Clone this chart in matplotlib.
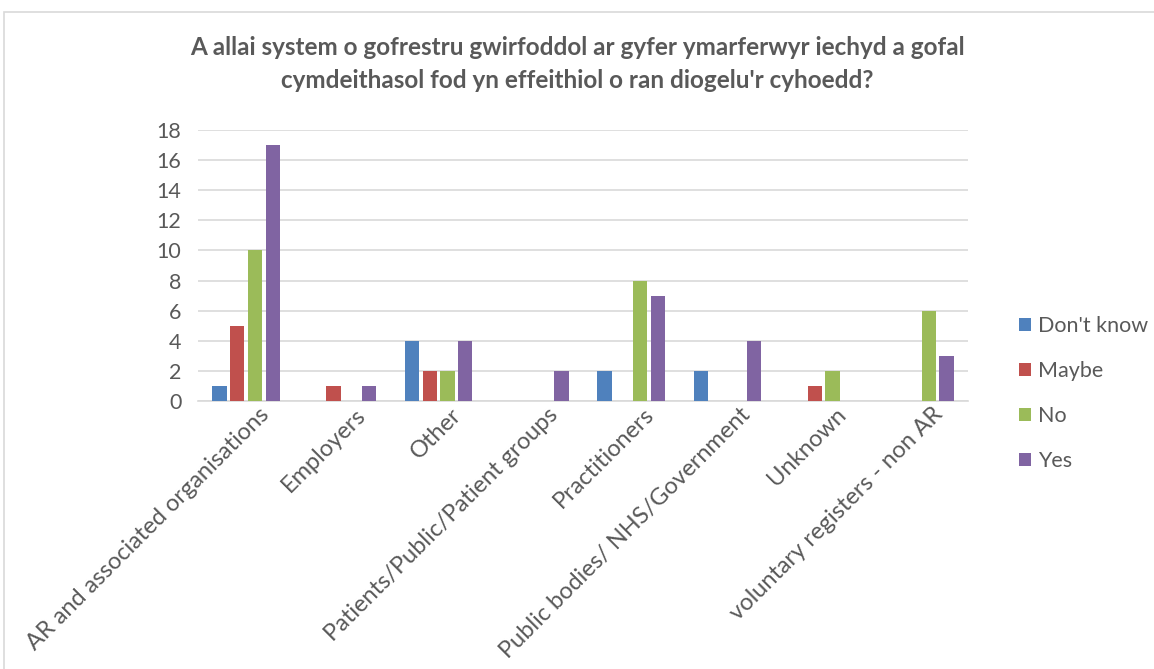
import matplotlib.pyplot as plt
import matplotlib.transforms as mtransforms
import numpy as np
from matplotlib.patches import Rectangle

plt.rcParams['font.family'] = ['Lato', 'DejaVu Sans']

categories = ["AR and associated organisations", "Employers", "Other",
              "Patients/Public/Patient groups", "Practitioners",
              "Public bodies/ NHS/Government", "Unknown",
              "voluntary registers - non AR"]
series = ["Don't know", "Maybe", "No", "Yes"]
dont_know = [1, 0, 4, 0, 2, 2, 0, 0]
maybe = [5, 1, 2, 0, 0, 0, 1, 0]
no = [10, 0, 2, 0, 8, 0, 2, 6]
yes = [17, 1, 4, 2, 7, 4, 0, 3]
colors = ["#4F81BD", "#C0504D", "#9BBB59", "#8064A2"]

fig = plt.figure(figsize=(11.54, 6.69), dpi=100)
ax = fig.add_axes([198 / 1154, 1 - 401 / 669, 770 / 1154, 271 / 669])

x = np.arange(len(categories))
w = 0.148
step = 0.184
for i, (vals, name, c) in enumerate(zip([dont_know, maybe, no, yes], series, colors)):
    ax.bar(x + (i - 1.5) * step, vals, width=w, color=c, label=name, zorder=3)

ax.set_xlim(-0.5, len(categories) - 0.5)
ax.set_ylim(0, 18)
ax.set_yticks(range(0, 19, 2))
ax.grid(axis='y', color='#D9D9D9', linewidth=1.2, zorder=0)
for s in ['top', 'right', 'left']:
    ax.spines[s].set_visible(False)
ax.spines['bottom'].set_color('#D9D9D9')
ax.spines['bottom'].set_linewidth(1.2)
ax.tick_params(length=0, colors='#595959', labelsize=15.5)
ax.tick_params(axis='y', pad=12)
ax.set_xticks(x)
ax.set_xticklabels(categories, rotation=45, ha='right', va='top',
                   rotation_mode='anchor', fontsize=17)
shift = mtransforms.ScaledTranslation(0.12, 0.02, fig.dpi_scale_trans)
for lbl in ax.get_xticklabels():
    lbl.set_transform(lbl.get_transform() + shift)

fig.suptitle("A allai system o gofrestru gwirfoddol ar gyfer ymarferwyr iechyd a gofal\n"
             "cymdeithasol fod yn effeithiol o ran diogelu'r cyhoedd?",
             x=0.5, y=1 - 36 / 669, fontsize=17.5, fontweight='bold', color='#595959',
             linespacing=1.55, va='top')

ax.legend(loc='upper left', bbox_to_anchor=(1000 / 1154, 1 - 297 / 669),
          bbox_transform=fig.transFigure, frameon=False, fontsize=15.5,
          handlelength=0.55, handleheight=0.55, handletextpad=0.3,
          labelspacing=1.15, labelcolor='#595959')

fig.patches.append(Rectangle((4 / 1154, -0.01), 1.2, 1 - 12 / 669 + 0.01,
                             transform=fig.transFigure, fill=False,
                             edgecolor='#D9D9D9', linewidth=1.2))

fig.savefig("out.png", dpi=100)
